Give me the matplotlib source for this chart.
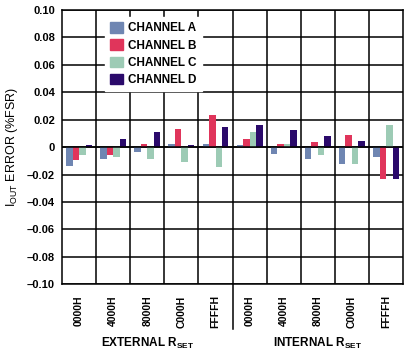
import numpy as np
import matplotlib
matplotlib.use("Agg")
import matplotlib.pyplot as plt
from matplotlib.patches import Patch

plt.rcParams["font.family"] = ["Liberation Sans", "DejaVu Sans"]

codes = ["0000H", "4000H", "8000H", "C000H", "FFFFH"]
groups = ["EXTERNAL R$_{\\mathregular{SET}}$", "INTERNAL R$_{\\mathregular{SET}}$"]
series = ["CHANNEL A", "CHANNEL B", "CHANNEL C", "CHANNEL D"]
colors = ["#6f86b2", "#e0355b", "#9dcbb5", "#2b0a6b"]

# external 0000H..FFFFH then internal 0000H..FFFFH
channel_a = [-0.0137, -0.0088, -0.0034, 0.0020, 0.0020, 0.0015, -0.0050, -0.0088, -0.0124, -0.0070]
channel_b = [-0.0095, -0.0060, 0.0022, 0.0134, 0.0234, 0.0060, 0.0020, 0.0036, 0.0088, -0.0234]
channel_c = [-0.0060, -0.0070, -0.0088, -0.0107, -0.0144, 0.0110, 0.0020, -0.0060, -0.0124, 0.0160]
channel_d = [0.0015, 0.0060, 0.0110, 0.0015, 0.0148, 0.0160, 0.0124, 0.0080, 0.0044, -0.0234]
values = [channel_a, channel_b, channel_c, channel_d]

yticks = [0.10, 0.08, 0.06, 0.04, 0.02, 0, -0.02, -0.04, -0.06, -0.08, -0.10]
ytick_labels = ["0.10", "0.08", "0.06", "0.04", "0.02", "0",
                "\u20130.02", "\u20130.04", "\u20130.06", "\u20130.08", "\u20130.10"]

fig = plt.figure(figsize=(4.08, 3.57), dpi=100)
ax = fig.add_axes([0.152, 0.204, 0.836, 0.768])

n = len(channel_a)
x = np.arange(n)
width = 0.19
for i, (vals, col) in enumerate(zip(values, colors)):
    ax.bar(x + (i - 1.5) * width, vals, width, color=col, zorder=3)

ax.set_xlim(-0.5, n - 0.5)
ax.set_ylim(-0.10, 0.10)
ax.set_yticks(yticks)
ax.set_yticklabels(ytick_labels, fontsize=8, fontweight="bold")
ax.set_xticks(x, codes * 2, rotation=90, fontsize=7.5, fontweight="bold")
ax.tick_params(length=0, pad=5)
ax.tick_params(axis="x", pad=8)

# grid
for yv in yticks:
    ax.axhline(yv, color="black", lw=1.1, zorder=1)
for xv in np.arange(0.5, n - 0.5, 1):
    ax.axvline(xv, color="black", lw=1.1, zorder=1)
ax.axhline(0, color="black", lw=1.1, zorder=4)
for s in ax.spines.values():
    s.set_linewidth(1.1)

# separator between the two groups, running below the axis
trans = ax.get_xaxis_transform()
ax.plot([4.5, 4.5], [0, -0.164], color="black", lw=1.1, transform=trans, clip_on=False)

ax.text(2, -0.217, groups[0], transform=trans, ha="center", va="center",
        fontsize=8.5, fontweight="bold")
ax.text(7, -0.217, groups[1], transform=trans, ha="center", va="center",
        fontsize=8.5, fontweight="bold")

ax.set_ylabel("I$_{\\mathregular{OUT}}$ ERROR (%FSR)", fontsize=9, labelpad=5)

handles = [Patch(color=c) for c in colors]
leg = ax.legend(handles, series, loc="upper left", bbox_to_anchor=(0.11, 0.995),
                frameon=True, fancybox=False, edgecolor="white", framealpha=1,
                prop={"size": 8.5, "weight": "bold"}, handlelength=1.1, handleheight=1.0,
                handletextpad=0.45, labelspacing=0.42, borderpad=0.4)
leg.set_zorder(5)

fig.savefig("out.png", dpi=100)
